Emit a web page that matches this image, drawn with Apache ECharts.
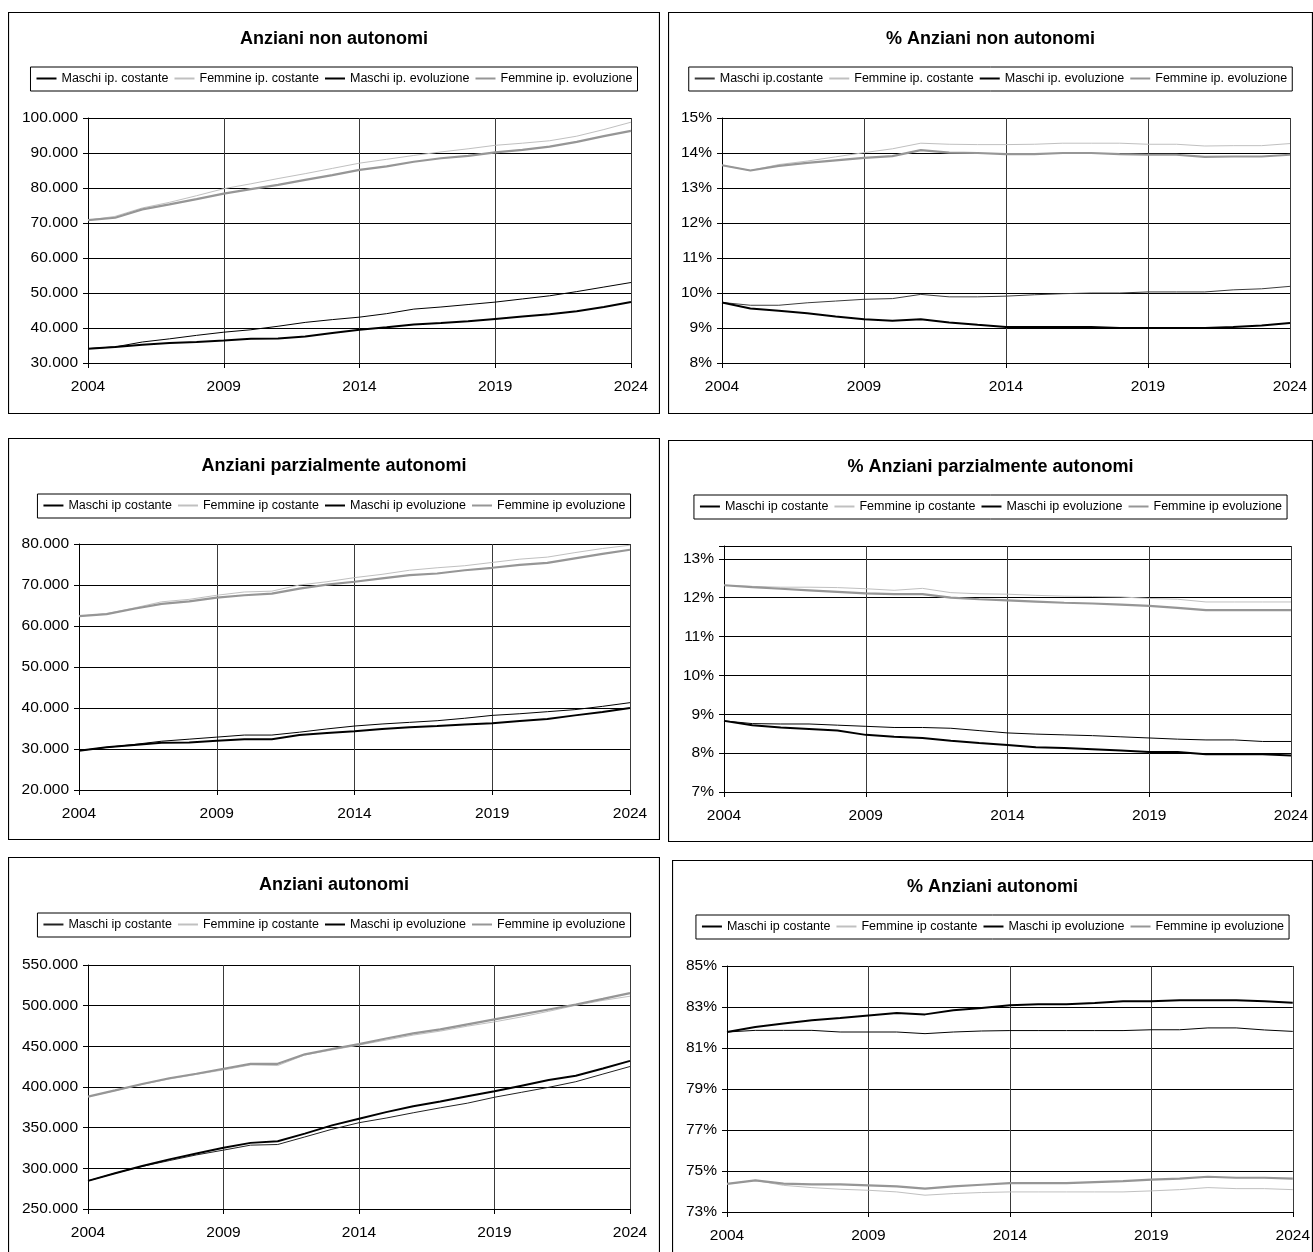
<!DOCTYPE html>
<html>
<head>
<meta charset="utf-8">
<script src="https://cdn.jsdelivr.net/npm/echarts@6/dist/echarts.min.js"></script>
<style>
html, body { margin: 0; padding: 0; background: #fff; overflow: hidden; width: 1313px; height: 1252px; }
.p { position: absolute; }
</style>
</head>
<body>
<div id="c1" class="p" style="left:8px;top:12px;width:652px;height:402px"></div>
<div id="c2" class="p" style="left:668px;top:12px;width:645px;height:402px"></div>
<div id="c3" class="p" style="left:8px;top:438px;width:652px;height:402px"></div>
<div id="c4" class="p" style="left:668px;top:440px;width:645px;height:402px"></div>
<div id="c5" class="p" style="left:8px;top:857px;width:652px;height:396px"></div>
<div id="c6" class="p" style="left:672px;top:860px;width:641px;height:393px"></div>
<script>
// ---------- DATA ----------
const years = ['2004','2005','2006','2007','2008','2009','2010','2011','2012','2013','2014',
               '2015','2016','2017','2018','2019','2020','2021','2022','2023','2024'];

// Anziani non autonomi
const nonAutMaschiCost = [34100,34600,36000,36900,37900,38800,39500,40500,41600,42400,43100,44100,45400,46000,46700,47400,48300,49200,50400,51700,53000];
const nonAutFemmCost   = [70800,71900,74300,75900,77800,79800,81200,82700,84100,85600,87100,88200,89300,90300,91200,92200,92800,93500,94800,96700,98800];
const nonAutMaschiEvo  = [34100,34600,35200,35700,36000,36400,36900,37000,37600,38600,39500,40200,41000,41400,41900,42600,43300,43900,44800,46000,47400];
const nonAutFemmEvo    = [70800,71500,73900,75300,76800,78400,79700,80900,82300,83700,85200,86200,87500,88500,89200,90200,90900,91800,93200,94800,96300];

// % Anziani non autonomi
const pNonAutMaschiCost = [9.73,9.65,9.65,9.72,9.77,9.82,9.84,9.96,9.89,9.89,9.91,9.95,9.98,10.00,10.00,10.03,10.03,10.03,10.09,10.12,10.19];
const pNonAutFemmCost   = [13.65,13.50,13.67,13.77,13.89,14.01,14.12,14.28,14.25,14.24,14.24,14.25,14.28,14.28,14.28,14.25,14.25,14.20,14.21,14.21,14.27];
const pNonAutMaschiEvo  = [9.73,9.56,9.49,9.42,9.33,9.25,9.21,9.25,9.16,9.09,9.03,9.03,9.03,9.03,9.00,9.00,9.00,9.00,9.03,9.07,9.14];
const pNonAutFemmEvo    = [13.65,13.50,13.63,13.72,13.79,13.86,13.91,14.08,14.01,14.00,13.97,13.97,14.00,14.00,13.97,13.95,13.95,13.89,13.90,13.90,13.95];

// Anziani parzialmente autonomi
const parzMaschiCost = [29600,30400,31100,31900,32400,32900,33400,33400,34100,34900,35600,36100,36500,36900,37500,38200,38600,39100,39600,40400,41300];
const parzFemmCost   = [62400,63000,64400,65900,66500,67500,68300,68500,70000,70800,71800,72600,73600,74200,74700,75500,76300,76800,77900,78900,79700];
const parzMaschiEvo  = [29600,30400,31000,31500,31600,32000,32400,32400,33400,33900,34300,34900,35300,35600,36000,36300,36800,37300,38200,39000,40000];
const parzFemmEvo    = [62400,62900,64200,65400,66000,66900,67500,67900,69100,70100,70800,71600,72400,72800,73600,74200,74900,75400,76500,77600,78600];

// % Anziani parzialmente autonomi
const pParzMaschiCost = [8.83,8.76,8.75,8.75,8.72,8.69,8.66,8.66,8.64,8.58,8.52,8.49,8.47,8.45,8.42,8.39,8.36,8.34,8.34,8.30,8.30];
const pParzFemmCost   = [12.32,12.29,12.27,12.27,12.26,12.23,12.19,12.24,12.13,12.10,12.09,12.06,12.04,12.03,12.02,11.98,11.96,11.89,11.89,11.89,11.89];
const pParzMaschiEvo  = [8.83,8.72,8.66,8.62,8.58,8.47,8.42,8.39,8.32,8.26,8.21,8.15,8.13,8.10,8.07,8.03,8.03,7.97,7.97,7.97,7.94];
const pParzFemmEvo    = [12.32,12.27,12.23,12.19,12.15,12.11,12.09,12.09,12.00,11.96,11.93,11.90,11.87,11.85,11.82,11.79,11.74,11.68,11.68,11.68,11.68];

// Anziani autonomi
const autMaschiCost = [284600,294000,302400,309500,316500,322400,328500,329300,338600,348000,356100,361800,368300,374400,380100,387400,393500,399600,406500,415900,425200];
const autFemmCost   = [388200,395500,403300,409800,415500,421000,427200,426400,439400,445500,451600,457700,463800,468700,474800,480100,486200,493100,500400,506500,511600];
const autMaschiEvo  = [284600,293900,302800,311000,318300,325200,331300,333300,342700,352800,361000,369100,376400,382100,388600,394700,401600,408500,413800,422800,432100];
const autFemmEvo    = [388200,395800,403700,410800,416300,422400,428500,428500,440200,446700,452800,459600,466000,470900,477000,483100,489200,495300,501400,508300,515400];

// % Anziani autonomi
const pAutMaschiCost = [81.78,81.86,81.86,81.86,81.78,81.78,81.78,81.70,81.78,81.83,81.85,81.85,81.85,81.85,81.85,81.89,81.89,81.98,81.98,81.88,81.81];
const pAutFemmCost   = [74.37,74.54,74.30,74.19,74.11,74.06,73.98,73.82,73.90,73.95,73.98,73.98,73.98,73.98,73.98,74.03,74.09,74.19,74.14,74.14,74.09];
const pAutMaschiEvo  = [81.78,82.02,82.19,82.35,82.46,82.59,82.71,82.64,82.84,82.95,83.08,83.13,83.13,83.20,83.28,83.28,83.33,83.33,83.33,83.28,83.21];
const pAutFemmEvo    = [74.37,74.54,74.38,74.35,74.35,74.30,74.25,74.14,74.25,74.33,74.41,74.41,74.41,74.46,74.51,74.58,74.63,74.72,74.67,74.67,74.63];

const namesDot   = ['Maschi ip. costante','Femmine ip. costante','Maschi ip. evoluzione','Femmine ip. evoluzione'];
const namesDot2  = ['Maschi ip.costante','Femmine ip. costante','Maschi ip. evoluzione','Femmine ip. evoluzione'];
const namesPlain = ['Maschi ip costante','Femmine ip costante','Maschi ip evoluzione','Femmine ip evoluzione'];

// ---------- STYLE ----------
const FONT = "'Liberation Sans', Arial, Helvetica, sans-serif";
const lineStyles = [
  { color: '#000000', width: 1 },
  { color: '#c0c0c0', width: 1 },
  { color: '#000000', width: 2 },
  { color: '#969696', width: 2.2 }
];

function fmtThousands(v) {
  return String(Math.round(v)).replace(/\B(?=(\d{3})+(?!\d))/g, '.');
}
function fmtPct(v) {
  return Math.abs(v - Math.round(v)) < 1e-6 ? Math.round(v) + '%' : '';
}

function makeChart(cfg) {
  const el = document.getElementById(cfg.id);
  const W = el.clientWidth, H = el.clientHeight;
  const chart = echarts.init(el, null, { renderer: 'canvas' });
  const series = cfg.data.map((d, i) => {
    const col = (cfg.colorOverride && cfg.colorOverride[i]) || lineStyles[i].color;
    return {
      name: cfg.names[i],
      type: 'line',
      data: d,
      symbol: 'none',
      smooth: false,
      silent: true,
      lineStyle: { color: col, width: lineStyles[i].width },
      itemStyle: { color: col },
      emphasis: { disabled: true }
    };
  });
  chart.setOption({
    animation: false,
    backgroundColor: '#fff',
    graphic: [{
      type: 'rect', silent: true, z: 100,
      shape: { x: 0.5, y: 0.5, width: W - 1, height: H - (cfg.openBottom ? 0 : 1) },
      style: { fill: 'none', stroke: '#000', lineWidth: 1.2 }
    }],
    title: {
      text: cfg.title,
      left: 'center',
      top: cfg.titleTop,
      textStyle: { fontFamily: FONT, fontSize: 18, fontWeight: 'bold', color: '#000' }
    },
    legend: {
      data: cfg.names,
      left: 'center',
      top: cfg.legendTop,
      orient: 'horizontal',
      borderColor: '#000',
      borderWidth: 1,
      padding: [5, 5, 6, 5],
      itemGap: 5,
      itemWidth: 20,
      itemHeight: 14,
      selectedMode: false,
      itemStyle: { opacity: 0, borderWidth: 0 },
      textStyle: { fontFamily: FONT, fontSize: 12.5, color: '#000' }
    },
    grid: Object.assign({ containLabel: false }, cfg.grid),
    xAxis: {
      type: 'category',
      data: years,
      boundaryGap: false,
      axisLine: { show: true, lineStyle: { color: '#000', width: 1 } },
      axisTick: { show: true, interval: 4, length: 5, lineStyle: { color: '#000' } },
      axisLabel: { interval: 4, fontFamily: FONT, fontSize: 15.5, color: '#000', margin: 16 },
      splitLine: { show: true, interval: 4, lineStyle: { color: '#3a3a3a', width: 1 } }
    },
    yAxis: {
      type: 'value',
      min: cfg.yMin, max: cfg.yMax, interval: cfg.yInterval,
      axisLine: { show: true, lineStyle: { color: '#000', width: 1 } },
      axisTick: { show: true, length: 5, lineStyle: { color: '#000' } },
      axisLabel: { formatter: cfg.fmt, fontFamily: FONT, fontSize: 15.5, color: '#000', margin: 10 },
      splitLine: { show: true, lineStyle: { color: '#000', width: 1 } }
    },
    series: series
  });
}

makeChart({
  id: 'c1', title: 'Anziani non autonomi', names: namesDot,
  data: [nonAutMaschiCost, nonAutFemmCost, nonAutMaschiEvo, nonAutFemmEvo],
  yMin: 30000, yMax: 100000, yInterval: 10000, fmt: fmtThousands,
  titleTop: 13, legendTop: 55,
  grid: { left: 80, right: 29, top: 106, bottom: 51 }
});
makeChart({
  id: 'c2', title: '% Anziani non autonomi', names: namesDot2,
  data: [pNonAutMaschiCost, pNonAutFemmCost, pNonAutMaschiEvo, pNonAutFemmEvo],
  colorOverride: ['#3c3c3c', null, null, null],
  yMin: 8, yMax: 15, yInterval: 1, fmt: fmtPct,
  titleTop: 13, legendTop: 55,
  grid: { left: 54, right: 23, top: 106, bottom: 51 }
});
makeChart({
  id: 'c3', title: 'Anziani parzialmente autonomi', names: namesPlain,
  data: [parzMaschiCost, parzFemmCost, parzMaschiEvo, parzFemmEvo],
  yMin: 20000, yMax: 80000, yInterval: 10000, fmt: fmtThousands,
  titleTop: 14, legendTop: 56,
  grid: { left: 71, right: 30, top: 106, bottom: 50 }
});
makeChart({
  id: 'c4', title: '% Anziani parzialmente autonomi', names: namesPlain,
  data: [pParzMaschiCost, pParzFemmCost, pParzMaschiEvo, pParzFemmEvo],
  yMin: 7, yMax: 13.33, yInterval: 1, fmt: fmtPct,
  titleTop: 13, legendTop: 55,
  grid: { left: 56, right: 22, top: 106, bottom: 50 }
});
makeChart({
  id: 'c5', title: 'Anziani autonomi', names: namesPlain,
  data: [autMaschiCost, autFemmCost, autMaschiEvo, autFemmEvo],
  colorOverride: ['#222', null, null, null],
  yMin: 250000, yMax: 550000, yInterval: 50000, fmt: fmtThousands,
  titleTop: 14, legendTop: 56, openBottom: true,
  grid: { left: 80, right: 30, top: 108, bottom: 44 }
});
makeChart({
  id: 'c6', title: '% Anziani autonomi', names: namesPlain,
  data: [pAutMaschiCost, pAutFemmCost, pAutMaschiEvo, pAutFemmEvo],
  yMin: 73, yMax: 85, yInterval: 2, fmt: fmtPct,
  titleTop: 13, legendTop: 55, openBottom: true,
  grid: { left: 55, right: 18, top: 106, bottom: 41 }
});
</script>
</body>
</html>
